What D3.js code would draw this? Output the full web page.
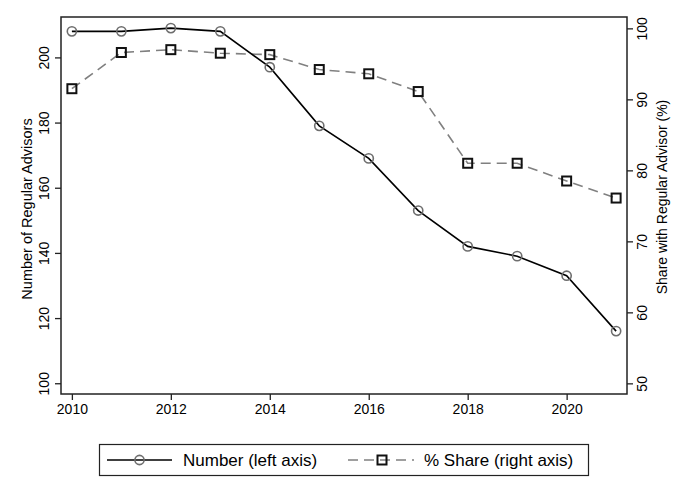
<!DOCTYPE html>
<html>
<head>
<meta charset="utf-8">
<script src="https://cdn.jsdelivr.net/npm/d3@7"></script>
<style>
  body { margin: 0; background: #fff; }
  svg { font-family: "Liberation Sans", Arial, sans-serif; }
</style>
</head>
<body>
<div id="chart"></div>
<script>
// Data
var years = [2010, 2011, 2012, 2013, 2014, 2015, 2016, 2017, 2018, 2019, 2020, 2021];
var numberAdvisors = [208, 208, 209, 208, 197, 179, 169, 153, 142, 139, 133, 116];
var shareAdvisor = [91.5, 96.6, 97.0, 96.5, 96.3, 94.2, 93.6, 91.1, 81.0, 81.0, 78.5, 76.1];
var xTicks = [2010, 2012, 2014, 2016, 2018, 2020];
var leftTicks = [100, 120, 140, 160, 180, 200];
var rightTicks = [50, 60, 70, 80, 90, 100];

var width = 688, height = 500;
var margin = { top: 17, right: 61, bottom: 106, left: 61 };

var svg = d3.select("#chart").append("svg")
  .attr("width", width)
  .attr("height", height);

// Declare the scales.
var xScale = d3.scaleLinear()
  .domain([2009.78, 2021.22])
  .range([margin.left, width - margin.right]);

var yLeft = d3.scaleLinear()
  .domain([96.7, 212.4])
  .range([height - margin.bottom, margin.top]);

var yRight = d3.scaleLinear()
  .domain([48.5, 101.6])
  .range([height - margin.bottom, margin.top]);

// Plot frame
svg.append("rect")
  .attr("x", margin.left)
  .attr("y", margin.top)
  .attr("width", width - margin.left - margin.right)
  .attr("height", height - margin.top - margin.bottom)
  .attr("fill", "none")
  .attr("stroke", "#222")
  .attr("stroke-width", 1.5);

// Bottom axis
svg.append("g")
  .attr("transform", `translate(0,${height - margin.bottom})`)
  .call(d3.axisBottom(xScale).tickValues(xTicks).tickFormat(d3.format("d")).tickSize(6).tickPadding(4))
  .call((g) => g.select(".domain").remove())
  .call((g) => g.selectAll("line").attr("stroke", "#222").attr("stroke-width", 1.3))
  .call((g) => g.selectAll("text").attr("font-size", 14).attr("fill", "#000").attr("font-family", null));

// Left axis, rotated labels
svg.append("g")
  .attr("transform", `translate(${margin.left},0)`)
  .call(d3.axisLeft(yLeft).tickValues(leftTicks).tickSize(6).tickFormat(d3.format("d")))
  .call((g) => g.select(".domain").remove())
  .call((g) => g.selectAll("line").attr("stroke", "#222").attr("stroke-width", 1.3))
  .call((g) => g.selectAll("text")
    .attr("font-size", 14).attr("fill", "#000").attr("font-family", null)
    .attr("x", null).attr("dy", null)
    .attr("text-anchor", "middle")
    .attr("transform", "translate(-12,0) rotate(-90)"));

// Right axis, rotated labels
svg.append("g")
  .attr("transform", `translate(${width - margin.right},0)`)
  .call(d3.axisRight(yRight).tickValues(rightTicks).tickSize(6).tickFormat(d3.format("d")))
  .call((g) => g.select(".domain").remove())
  .call((g) => g.selectAll("line").attr("stroke", "#222").attr("stroke-width", 1.3))
  .call((g) => g.selectAll("text")
    .attr("font-size", 14).attr("fill", "#000").attr("font-family", null)
    .attr("x", null).attr("dy", null)
    .attr("text-anchor", "middle")
    .attr("transform", "translate(20,0) rotate(-90)"));

// Axis titles
svg.append("text")
  .attr("transform", "translate(32,209) rotate(-90)")
  .attr("text-anchor", "middle")
  .attr("font-size", 14.5)
  .text("Number of Regular Advisors");

svg.append("text")
  .attr("transform", "translate(667,197) rotate(-90)")
  .attr("text-anchor", "middle")
  .attr("font-size", 14)
  .text("Share with Regular Advisor (%)");

// Share series (right axis), dashed grey with squares
var shareLine = d3.line()
  .x((d, i) => xScale(years[i]))
  .y((d) => yRight(d));

svg.append("path")
  .datum(shareAdvisor)
  .attr("fill", "none")
  .attr("stroke", "#808080")
  .attr("stroke-width", 1.6)
  .attr("stroke-dasharray", "10,6")
  .attr("d", shareLine);

svg.append("g")
  .selectAll("rect")
  .data(shareAdvisor)
  .join("rect")
  .attr("x", (d, i) => xScale(years[i]) - 4.5)
  .attr("y", (d) => yRight(d) - 4.5)
  .attr("width", 9)
  .attr("height", 9)
  .attr("fill", "none")
  .attr("stroke", "#111")
  .attr("stroke-width", 2);

// Number series (left axis), solid black with circles
var numberLine = d3.line()
  .x((d, i) => xScale(years[i]))
  .y((d) => yLeft(d));

svg.append("path")
  .datum(numberAdvisors)
  .attr("fill", "none")
  .attr("stroke", "#000")
  .attr("stroke-width", 1.6)
  .attr("d", numberLine);

svg.append("g")
  .selectAll("circle")
  .data(numberAdvisors)
  .join("circle")
  .attr("cx", (d, i) => xScale(years[i]))
  .attr("cy", (d) => yLeft(d))
  .attr("r", 4.6)
  .attr("fill", "none")
  .attr("stroke", "#6e6e6e")
  .attr("stroke-width", 1.6);

// Legend
var legend = svg.append("g");
legend.append("rect")
  .attr("x", 99.5)
  .attr("y", 444.5)
  .attr("width", 489)
  .attr("height", 31)
  .attr("fill", "#fff")
  .attr("stroke", "#222")
  .attr("stroke-width", 1.2);

legend.append("line")
  .attr("x1", 107).attr("x2", 172)
  .attr("y1", 460).attr("y2", 460)
  .attr("stroke", "#000").attr("stroke-width", 1.6);
legend.append("circle")
  .attr("cx", 139.5).attr("cy", 460).attr("r", 4.6)
  .attr("fill", "none").attr("stroke", "#6e6e6e").attr("stroke-width", 1.6);
legend.append("text")
  .attr("x", 183).attr("y", 466)
  .attr("font-size", 17)
  .text("Number (left axis)");

legend.append("line")
  .attr("x1", 348).attr("x2", 414)
  .attr("y1", 460).attr("y2", 460)
  .attr("stroke", "#808080").attr("stroke-width", 1.6)
  .attr("stroke-dasharray", "10,6");
legend.append("rect")
  .attr("x", 377.5).attr("y", 455.5).attr("width", 9).attr("height", 9)
  .attr("fill", "none").attr("stroke", "#111").attr("stroke-width", 2);
legend.append("text")
  .attr("x", 424).attr("y", 466)
  .attr("font-size", 17)
  .text("% Share (right axis)");
</script>
</body>
</html>
